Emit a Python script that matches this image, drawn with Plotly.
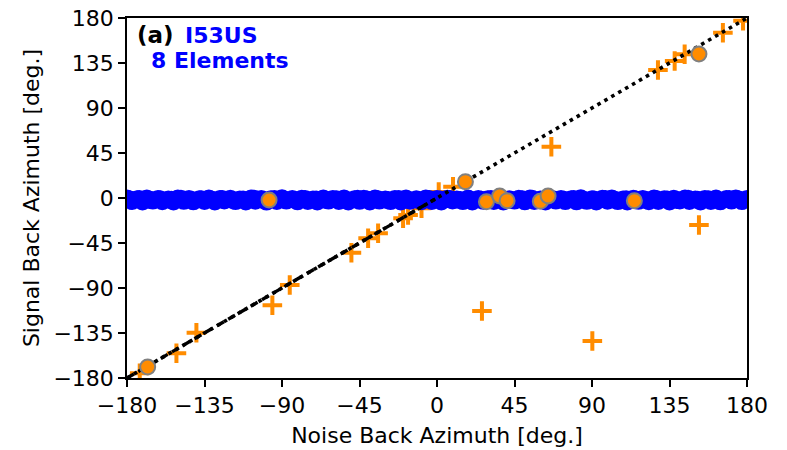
import plotly.graph_objects as go

# Blue band (signal back azimuth ~0 for all noise azimuths)
band_top_x = [-180, -174, -168.5, -162, -156, -150.5, -144, -138, -132.5, -126,
              -120, -114.5, -108, -102, -96.5, -90, -84, -78.5, -72, -66,
              -60.5, -54, -48, -42.5, -36, -30, -24.5, -18, -12, -6.5,
              0, 6, 11.5, 18, 24, 29.5, 36, 42, 47.5, 54,
              60, 65.5, 72, 78, 83.5, 90, 96, 101.5, 108, 114,
              119.5, 126, 132, 137.5, 144, 150, 155.5, 162, 168, 173.5, 180]
band_top_y = [-0.6, -1.2, -0.4, -1.0, -1.4, -0.5, -0.9, -1.3, -0.4, -1.1,
              -0.7, -1.4, -0.5, -0.9, -1.3, -0.3, -1.0, -0.7, -1.5, -0.6,
              -1.0, -0.4, -1.3, -0.8, -0.5, -1.4, -0.9, -0.6, -1.2, -0.4,
              -1.0, -0.7, -1.4, -0.5, -0.9, -1.2, -0.4, -1.3, -0.8, -0.6,
              -1.4, -0.5, -1.0, -1.2, -0.3, -1.3, -0.8, -0.5, -1.4, -0.7,
              -0.9, -0.4, -1.2, -0.8, -0.5, -1.4, -0.9, -0.6, -1.1, -0.4, -1.0]
band_mid_x = [-178.2, -172.9, -166.1, -160.8, -154.3, -148.7, -142.2, -136.9, -130.4, -124.8,
              -118.3, -112.6, -106.1, -100.7, -94.4, -88.8, -82.3, -76.6, -70.2, -64.7,
              -58.4, -52.8, -46.1, -40.6, -34.3, -28.7, -22.2, -16.8, -10.4, -4.7,
              1.8, 7.4, 13.6, 19.2, 25.7, 31.3, 37.8, 43.4, 49.6, 55.2,
              61.7, 67.3, 73.8, 79.4, 85.6, 91.2, 97.7, 103.3, 109.8, 115.4,
              121.6, 127.2, 133.7, 139.3, 145.8, 151.4, 157.6, 163.2, 169.7, 175.3]
band_mid_y = [-1.6, -0.9, -2.1, -1.3, -1.8, -0.7, -2.0, -1.2, -1.7, -1.0,
              -2.2, -1.4, -0.8, -1.9, -1.1, -1.6, -2.0, -0.9, -1.5, -1.8,
              -1.2, -2.1, -0.8, -1.6, -1.3, -1.9, -1.0, -1.7, -2.2, -1.1,
              -1.5, -0.9, -2.0, -1.4, -1.8, -1.0, -1.6, -2.1, -1.2, -0.8,
              -1.9, -1.3, -1.7, -1.1, -2.0, -1.5, -0.9, -1.8, -1.2, -1.6,
              -2.1, -1.0, -1.4, -1.9, -0.8, -1.7, -1.3, -2.0, -1.1, -1.5]
band_bot_x = [-177, -171, -165, -159.5, -153, -147, -141.5, -135, -129, -123.5,
              -117, -111, -105.5, -99, -93, -87.5, -81, -75, -69.5, -63,
              -57, -51.5, -45, -39, -33.5, -27, -21, -15.5, -9, -3,
              2.5, 9, 15, 20.5, 27, 33, 38.5, 45, 51, 56.5,
              63, 69, 74.5, 81, 87, 92.5, 99, 105, 110.5, 117,
              123, 128.5, 135, 141, 146.5, 153, 159, 164.5, 171, 177]
band_bot_y = [-3.0, -3.4, -2.6, -3.2, -3.5, -2.8, -3.3, -2.9, -3.5, -2.5,
              -3.1, -3.4, -2.7, -3.6, -2.9, -2.6, -3.3, -3.0, -3.5, -2.6,
              -2.9, -3.4, -2.8, -3.5, -2.6, -3.1, -3.4, -2.7, -3.2, -2.9,
              -3.4, -2.5, -3.1, -3.5, -2.8, -3.0, -3.4, -2.6, -3.3, -2.9,
              -3.5, -2.6, -3.1, -3.3, -2.8, -3.5, -2.7, -3.1, -3.4, -2.8,
              -3.2, -3.0, -3.5, -2.5, -3.0, -3.4, -2.9, -3.3, -2.6, -3.1]

# Orange circles (detections)
circ_x = [-168, -97.5, 16.5, 28.7, 36.4, 40.7, 60, 64.5, 114.6, 152.1]
circ_y = [-169, -2, 16.3, -3.7, 2, -2.7, -3.3, 2, -2.7, 144]

# Orange crosses
cross_x = [-172.6, -151.3, -139.7, -95.6, -85.5, -49.7, -40, -34.2, -19.7, -16.8,
           -9, 1, 9.3, 66.4, 128.3, 138, 143.8, 166, 177.7, 152.1, 26.1, 90.2]
cross_y = [-175.3, -155.3, -134.7, -107.3, -87, -54.7, -40.3, -35.3, -20.3, -17,
           -10.3, 6, 11.3, 51.3, 128, 137, 143.7, 165.3, 177.3, -27, -113, -143]

# Reference lines
one_to_one = [-180, 180]
dash_seg = [-180, -1]

ticks = [-180, -135, -90, -45, 0, 45, 90, 135, 180]
tick_text = ["\u2212180", "\u2212135", "\u221290", "\u221245", "0", "45", "90", "135", "180"]

ORANGE = "#ff8c00"
FONT = "DejaVu Sans"

fig = go.Figure()
fig.add_trace(go.Scatter(x=cross_x, y=cross_y, mode="markers",
                         marker=dict(symbol="cross-thin", size=14,
                                     line=dict(color=ORANGE, width=4)),
                         showlegend=False))
fig.add_trace(go.Scatter(x=band_top_x + band_mid_x + band_bot_x,
                         y=band_top_y + band_mid_y + band_bot_y,
                         mode="markers",
                         marker=dict(color="#0000ff", size=18, line=dict(width=0)),
                         showlegend=False))
fig.add_trace(go.Scatter(x=one_to_one, y=one_to_one, mode="lines",
                         line=dict(color="black", width=3.6, dash="3.6px,4.4px"),
                         showlegend=False))
fig.add_trace(go.Scatter(x=dash_seg, y=dash_seg, mode="lines",
                         line=dict(color="black", width=3.4, dash="8px,5px"),
                         showlegend=False))
fig.add_trace(go.Scatter(x=circ_x, y=circ_y, mode="markers",
                         marker=dict(color=ORANGE, size=15,
                                     line=dict(color="#808080", width=2)),
                         showlegend=False))

axis_common = dict(range=[-180, 180], tickvals=ticks, ticktext=tick_text,
                   showgrid=False, zeroline=False, showline=True, mirror=True,
                   linecolor="black", linewidth=1.5, ticks="outside", ticklen=7,
                   tickwidth=1.5, tickcolor="black", automargin=False,
                   tickfont=dict(family=FONT, size=22, color="black"))

fig.update_xaxes(**axis_common,
                 title=dict(text="Noise Back Azimuth [deg.]",
                            font=dict(family=FONT, size=22, color="black"),
                            standoff=10))
fig.update_yaxes(**axis_common,
                 title=dict(text="Signal Back Azimuth [deg.]",
                            font=dict(family=FONT, size=22, color="black"),
                            standoff=8))

fig.add_annotation(xref="paper", yref="paper", x=0.013, y=0.952, xanchor="left",
                   yanchor="middle", showarrow=False,
                   text="<b>(a)</b>", font=dict(family=FONT, size=23, color="black"))
fig.add_annotation(xref="paper", yref="paper", x=0.090, y=0.952, xanchor="left",
                   yanchor="middle", showarrow=False,
                   text="<b>I53US</b>", font=dict(family=FONT, size=22, color="#0000ff"))
fig.add_annotation(xref="paper", yref="paper", x=0.035, y=0.882, xanchor="left",
                   yanchor="middle", showarrow=False,
                   text="<b>8 Elements</b>", font=dict(family=FONT, size=22, color="#0000ff"))

fig.update_layout(width=787, height=450, plot_bgcolor="white", paper_bgcolor="white",
                  margin=dict(l=127, r=40, t=18, b=72), showlegend=False)

fig.write_html("out.html", config={"displayModeBar": False},
               post_script="document.body.style.margin='0';document.body.style.overflow='hidden';")
